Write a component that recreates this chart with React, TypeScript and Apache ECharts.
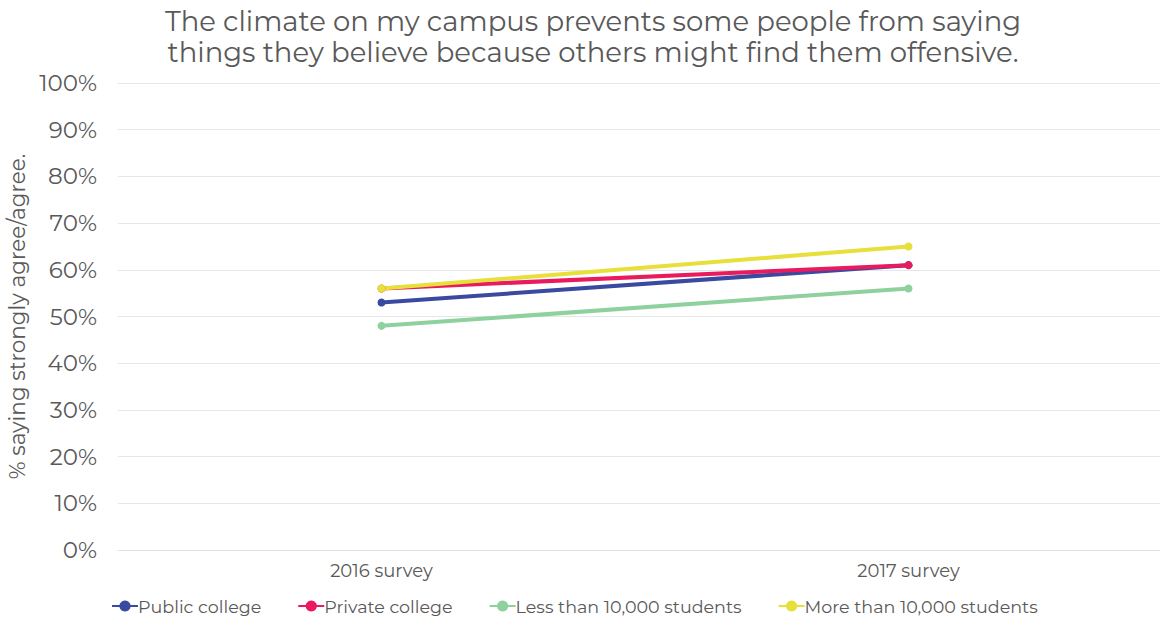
import React, { useEffect, useRef } from "react";
import * as echarts from "echarts";

const categories = ["2016 survey", "2017 survey"];
const publicCollege = [53, 61];
const privateCollege = [56, 61];
const lessThan10k = [48, 56];
const moreThan10k = [56, 65];
const seriesNames = ["Public college", "Private college", "Less than 10,000 students", "More than 10,000 students"];
const colors = ["#3a4aa0", "#ea1a5e", "#8fd19c", "#e7df3a"];

export default function App() {
  const ref = useRef<HTMLDivElement>(null);
  useEffect(() => {
    const chart = echarts.init(ref.current!, null, { renderer: "svg" });
    const font = "Montserrat, 'Open Sans', Lato, sans-serif";
    const data = [publicCollege, privateCollege, lessThan10k, moreThan10k];
    chart.setOption({
      animation: false,
      backgroundColor: "#fff",
      title: {
        text: "The climate on my campus prevents some people from saying\nthings they believe because others might find them offensive.",
        left: 588,
        textAlign: "center",
        top: 0,
        textStyle: { fontFamily: font, fontSize: 27.5, fontWeight: "normal", color: "#595959", lineHeight: 31 },
      },
      legend: {
        left: 106,
        top: 592,
        itemWidth: 26,
        itemHeight: 14,
        itemGap: 36,
        textStyle: { fontFamily: font, fontSize: 17.5, color: "#595959", padding: [0, 0, 0, -5] },
        data: seriesNames,
      },
      grid: { left: 118, top: 83, width: 1054, height: 467, containLabel: false, outerBoundsMode: "none" },
      xAxis: {
        type: "category",
        data: categories,
        boundaryGap: true,
        axisLine: { show: true, lineStyle: { color: "#e3e3e3" } },
        axisTick: { show: false },
        axisLabel: { fontFamily: font, fontSize: 18, color: "#595959", margin: 12 },
      },
      yAxis: {
        type: "value",
        min: 0,
        max: 100,
        interval: 10,
        name: "% saying strongly agree/agree.",
        nameLocation: "middle",
        nameRotate: 90,
        nameGap: 90,
        nameTextStyle: { fontFamily: font, fontSize: 21.5, color: "#595959" },
        axisLabel: { formatter: "{value}%", fontFamily: font, fontSize: 23, color: "#595959", margin: 21 },
        splitLine: { lineStyle: { color: "#e6e6e6" } },
        axisLine: { show: false },
        axisTick: { show: false },
      },
      series: data.map((d, i) => ({
        name: seriesNames[i],
        type: "line",
        data: d,
        symbol: "circle",
        symbolSize: 8,
        color: colors[i],
        lineStyle: { width: 4, color: colors[i] },
        itemStyle: { color: colors[i] },
      })),
    });
    return () => chart.dispose();
  }, []);
  return <div ref={ref} style={{ width: 1160, height: 624, position: "absolute", left: 0, top: 0 }} />;
}
